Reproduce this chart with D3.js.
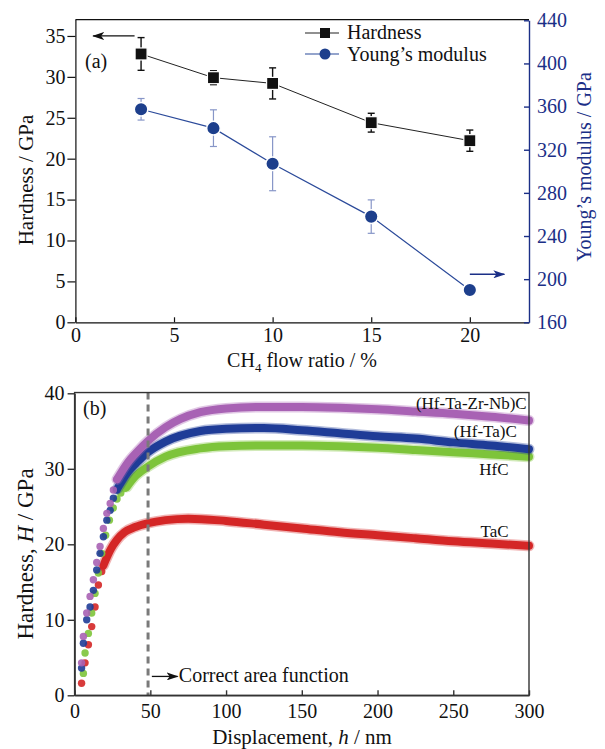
<!DOCTYPE html>
<html>
<head>
<meta charset="utf-8">
<script src="https://cdn.jsdelivr.net/npm/d3@7"></script>
<style>
  body { margin: 0; background: #fff; }
  svg text { font-family: "Liberation Serif", "Times New Roman", serif; }
</style>
</head>
<body>
<svg id="chart" width="605" height="749"></svg>
<script>
// panel (a): CH4 flow ratio vs hardness / modulus
let flowRatio = [3.33, 7, 10, 15, 20];
let hardness = [32.8, 29.9, 29.2, 24.4, 22.2];
let hardnessErr = [2.0, 0.85, 1.9, 1.15, 1.3];
let modulus = [357.5, 340, 307, 258, 190];
let modulusErr = [10, 17, 25, 15.5, 0];

let ticksA_x = [0, 5, 10, 15, 20];
let ticksA_yL = [0, 5, 10, 15, 20, 25, 30, 35];
let ticksA_yR = [160, 200, 240, 280, 320, 360, 400, 440];

// panel (b): hardness vs displacement, discrete dots at start then dense band
let hfcDotsH = [5.8, 6.9, 9.1, 11.3, 13.5, 15.7, 17.9, 20.5, 23, 25.5, 28, 30.5, 33];
let hfcDotsV = [2.9, 5.6, 8.2, 10.9, 13.5, 16.2, 18.8, 21.2, 23.2, 24.8, 26.0, 26.8, 27.4];
let hfcBandH = [34.5, 40, 48.5, 60, 83, 100, 125, 150, 175, 200, 225, 250, 275, 300];
let hfcBandV = [27.6, 29.0, 30.3, 31.6, 32.7, 33.0, 33.1, 33.1, 33.0, 32.8, 32.5, 32.2, 31.9, 31.6];

let hftaDotsH = [4.6, 5.8, 8.0, 10.2, 12.4, 14.6, 16.8, 19.0, 21.3, 23.5, 25.6, 27.9];
let hftaDotsV = [3.6, 6.9, 10.0, 11.7, 13.9, 16.6, 18.8, 21.0, 23.2, 24.5, 26.1, 27.2];
let hftaBandH = [28, 35, 42, 48.5, 60, 83, 100, 125, 150, 175, 200, 225, 250, 275, 300];
let hftaBandV = [27.3, 29.5, 31.0, 32.2, 33.6, 35.0, 35.3, 35.4, 35.1, 34.7, 34.3, 34.0, 33.5, 33.1, 32.6];

let heaDotsH = [4.6, 5.8, 8.0, 10.2, 12.4, 14.6, 16.8, 19.0, 21.3, 23.5, 25.6, 28];
let heaDotsV = [4.3, 7.8, 10.9, 13.1, 15.3, 17.6, 19.7, 22.1, 24.1, 25.4, 27.2, 28.6];
let heaBandH = [28, 35, 42, 48.5, 60, 70, 83, 100, 125, 150, 175, 200, 225, 250, 275, 300];
let heaBandV = [28.6, 30.8, 32.4, 33.7, 35.5, 36.6, 37.5, 38.0, 38.2, 38.2, 38.1, 37.9, 37.6, 37.3, 36.9, 36.4];

let tacDotsH = [4.6, 6.9, 9.1, 11.3, 13.5, 15.7, 17.9];
let tacDotsV = [1.6, 4.3, 6.7, 9.1, 11.7, 14.6, 16.4];
let tacBandH = [19, 24, 28, 33, 40, 48.5, 60, 75, 100, 125, 150, 175, 200, 225, 250, 275, 300];
let tacBandV = [17.2, 19.4, 20.6, 21.6, 22.3, 22.8, 23.2, 23.4, 23.1, 22.6, 22.1, 21.6, 21.2, 20.8, 20.4, 20.1, 19.8];

let ticksB_x = [0, 50, 100, 150, 200, 250, 300];
let ticksB_y = [0, 10, 20, 30, 40];

let navy = "#1b2f87";
let svg = d3.select("#chart");

let defs = svg.append("defs");
function arrowMarker(id, color) {
  defs.append("marker")
    .attr("id", id)
    .attr("viewBox", "0 0 12 8")
    .attr("refX", 11).attr("refY", 4)
    .attr("markerWidth", 12).attr("markerHeight", 8)
    .attr("markerUnits", "userSpaceOnUse")
    .attr("orient", "auto")
    .append("path")
    .attr("d", "M0,0 L12,4 L0,8 L3,4 Z")
    .attr("fill", color);
}
arrowMarker("arrBlack", "#111");
arrowMarker("arrNavy", navy);

// ---------- panel (a) ----------
let xA = d3.scaleLinear().domain([0, 23]).range([75.4, 529]);
let yL = d3.scaleLinear().domain([0, 37]).range([322.3, 19.6]);
let yR = d3.scaleLinear().domain([160, 440]).range([322.3, 20.3]);

let gA = svg.append("g");

gA.append("line")
  .attr("x1", xA(0)).attr("x2", xA(23))
  .attr("y1", yL(37)).attr("y2", yL(37))
  .attr("stroke", "#111").attr("stroke-width", 1.2);

let axA_x = gA.append("g")
  .attr("transform", "translate(0," + yL(0) + ")")
  .call(d3.axisBottom(xA).tickValues(ticksA_x).tickSizeInner(-5).tickSizeOuter(0).tickPadding(6));
let axA_yL = gA.append("g")
  .attr("transform", "translate(" + xA(0) + ",0)")
  .call(d3.axisLeft(yL).tickValues(ticksA_yL).tickSizeInner(8).tickSizeOuter(0).tickPadding(2));
let axA_yR = gA.append("g")
  .attr("transform", "translate(" + xA(23) + ",0)")
  .call(d3.axisRight(yR).tickValues(ticksA_yR).tickSizeInner(-5).tickSizeOuter(0).tickPadding(8));

[axA_x, axA_yL].forEach(a => {
  a.selectAll("path, line").attr("stroke", "#111").attr("stroke-width", 1.2);
  a.selectAll("text").attr("fill", "#111").style("font-size", "20px");
});
axA_yR.selectAll("path, line").attr("stroke", navy).attr("stroke-width", 1.4);
axA_yR.selectAll("text").attr("fill", navy).style("font-size", "20px");

// modulus series
let modIdx = d3.range(flowRatio.length);
gA.append("path")
  .datum(modIdx)
  .attr("fill", "none").attr("stroke", "#2b4a9a").attr("stroke-width", 1.2)
  .attr("d", d3.line().x(i => xA(flowRatio[i])).y(i => yR(modulus[i])));
let modErr = gA.append("g").attr("stroke", "#8796c8").attr("stroke-width", 1.2);
modIdx.filter(i => modulusErr[i] > 0).forEach(i => {
  let x = xA(flowRatio[i]);
  modErr.append("line").attr("x1", x).attr("x2", x)
    .attr("y1", yR(modulus[i] - modulusErr[i])).attr("y2", yR(modulus[i] + modulusErr[i]));
  [modulus[i] - modulusErr[i], modulus[i] + modulusErr[i]].forEach(v => {
    modErr.append("line").attr("x1", x - 3.5).attr("x2", x + 3.5)
      .attr("y1", yR(v)).attr("y2", yR(v));
  });
});
gA.selectAll("circle.mod")
  .data(modIdx).join("circle")
  .attr("class", "mod")
  .attr("cx", i => xA(flowRatio[i])).attr("cy", i => yR(modulus[i]))
  .attr("r", 6.8)
  .attr("fill", "#1d3f8c").attr("stroke", "#fff").attr("stroke-width", 1.5);

// hardness series
gA.append("path")
  .datum(modIdx)
  .attr("fill", "none").attr("stroke", "#222").attr("stroke-width", 1)
  .attr("d", d3.line().x(i => xA(flowRatio[i])).y(i => yL(hardness[i])));
let hErr = gA.append("g").attr("stroke", "#111").attr("stroke-width", 1.4);
modIdx.forEach(i => {
  let x = xA(flowRatio[i]);
  hErr.append("line").attr("x1", x).attr("x2", x)
    .attr("y1", yL(hardness[i] - hardnessErr[i])).attr("y2", yL(hardness[i] + hardnessErr[i]));
  [hardness[i] - hardnessErr[i], hardness[i] + hardnessErr[i]].forEach(v => {
    hErr.append("line").attr("x1", x - 3.5).attr("x2", x + 3.5)
      .attr("y1", yL(v)).attr("y2", yL(v));
  });
});
gA.selectAll("rect.hard")
  .data(modIdx).join("rect")
  .attr("class", "hard")
  .attr("x", i => xA(flowRatio[i]) - 6).attr("y", i => yL(hardness[i]) - 6)
  .attr("width", 12).attr("height", 12)
  .attr("fill", "#111").attr("stroke", "#fff").attr("stroke-width", 1.2);

// legend
let leg = gA.append("g");
leg.append("line").attr("x1", 305).attr("x2", 339).attr("y1", 33).attr("y2", 33)
  .attr("stroke", "#222").attr("stroke-width", 1.2);
leg.append("rect").attr("x", 320).attr("y", 28).attr("width", 10).attr("height", 10).attr("fill", "#111");
leg.append("text").attr("x", 347).attr("y", 39).style("font-size", "20px").attr("fill", "#111").text("Hardness");
leg.append("line").attr("x1", 305).attr("x2", 339).attr("y1", 54).attr("y2", 54)
  .attr("stroke", "#2b4a9a").attr("stroke-width", 1.2);
leg.append("circle").attr("cx", 325).attr("cy", 54).attr("r", 5.5).attr("fill", "#1d3f8c");
leg.append("text").attr("x", 347).attr("y", 61).style("font-size", "20px").attr("fill", "#111").text("Young\u2019s modulus");

// annotations
gA.append("text").attr("x", 85).attr("y", 68).style("font-size", "20px").attr("fill", "#111").text("(a)");
gA.append("line")
  .attr("x1", xA(3.0)).attr("x2", xA(0.9)).attr("y1", yL(35)).attr("y2", yL(35))
  .attr("stroke", "#111").attr("stroke-width", 1.3).attr("marker-end", "url(#arrBlack)");
gA.append("line")
  .attr("x1", xA(20.0)).attr("x2", xA(21.75)).attr("y1", yR(204.5)).attr("y2", yR(204.5))
  .attr("stroke", navy).attr("stroke-width", 1.6).attr("marker-end", "url(#arrNavy)");

// axis titles
let xTitleA = gA.append("text")
  .attr("x", 302).attr("y", 367).attr("text-anchor", "middle")
  .style("font-size", "20px").attr("fill", "#111");
xTitleA.append("tspan").text("CH");
xTitleA.append("tspan").attr("dy", 5).style("font-size", "13px").text("4");
xTitleA.append("tspan").attr("dy", -5).text(" flow ratio / %");

gA.append("text")
  .attr("transform", "translate(33,180) rotate(-90)")
  .attr("text-anchor", "middle").style("font-size", "21px").attr("fill", "#111")
  .text("Hardness / GPa");
gA.append("text")
  .attr("transform", "translate(591,167) rotate(-90)")
  .attr("text-anchor", "middle").style("font-size", "20px").attr("fill", navy)
  .text("Young\u2019s modulus / GPa");

// ---------- panel (b) ----------
let xB = d3.scaleLinear().domain([0, 300]).range([74.6, 529]);
let yB = d3.scaleLinear().domain([0, 40]).range([695.3, 393.3]);

let gB = svg.append("g");

let curves = [
  { name: "TaC", color: "#d42626", dH: tacDotsH, dV: tacDotsV, bH: tacBandH, bV: tacBandV },
  { name: "HfC", color: "#7dc43a", dH: hfcDotsH, dV: hfcDotsV, bH: hfcBandH, bV: hfcBandV },
  { name: "(Hf-Ta)C", color: "#1f3c97", dH: hftaDotsH, dV: hftaDotsV, bH: hftaBandH, bV: hftaBandV },
  { name: "(Hf-Ta-Zr-Nb)C", color: "#a862b4", dH: heaDotsH, dV: heaDotsV, bH: heaBandH, bV: heaBandV }
];

let bandLine = d3.line().curve(d3.curveMonotoneX);
curves.forEach(c => {
  let pts = c.bH.map((h, i) => [xB(h), yB(c.bV[i])]);
  gB.append("path")
    .attr("d", bandLine(pts))
    .attr("fill", "none").attr("stroke", c.color).attr("stroke-opacity", 0.35)
    .attr("stroke-width", 11).attr("stroke-linecap", "round");
  gB.append("path")
    .attr("d", bandLine(pts))
    .attr("fill", "none").attr("stroke", c.color)
    .attr("stroke-width", 8).attr("stroke-linecap", "round");
  gB.selectAll(null)
    .data(c.dH.map((h, i) => [h, c.dV[i]]))
    .join("circle")
    .attr("cx", d => xB(d[0])).attr("cy", d => yB(d[1]))
    .attr("r", 3.7).attr("fill", c.color).attr("fill-opacity", 0.9);
});

// dashed line at the area-function limit
gB.append("line")
  .attr("x1", xB(48.5)).attr("x2", xB(48.5))
  .attr("y1", yB(40.1)).attr("y2", yB(0))
  .attr("stroke", "#7a7a7a").attr("stroke-width", 3).attr("stroke-dasharray", "7,5");

// frame
gB.append("rect")
  .attr("x", xB(0)).attr("y", yB(40.1))
  .attr("width", xB(300) - xB(0)).attr("height", yB(0) - yB(40.1))
  .attr("fill", "none").attr("stroke", "#333").attr("stroke-width", 1.4);

let axB_x = gB.append("g")
  .attr("transform", "translate(0," + yB(0) + ")")
  .call(d3.axisBottom(xB).tickValues(ticksB_x).tickSizeInner(-5).tickSizeOuter(0).tickPadding(9));
let axB_y = gB.append("g")
  .attr("transform", "translate(" + xB(0) + ",0)")
  .call(d3.axisLeft(yB).tickValues(ticksB_y).tickSizeInner(7).tickSizeOuter(0).tickPadding(3));
[axB_x, axB_y].forEach(a => {
  a.selectAll("path, line").attr("stroke", "#333").attr("stroke-width", 1.4);
  a.selectAll("text").attr("fill", "#111").style("font-size", "20px");
});

// curve labels
let labelPos = [
  { t: "(Hf-Ta-Zr-Nb)C", h: 298.5, v: 37.9 },
  { t: "(Hf-Ta)C", h: 292, v: 34.2 },
  { t: "HfC", h: 286.5, v: 29.2 },
  { t: "TaC", h: 286.5, v: 21.0 }
];
labelPos.forEach(l => {
  gB.append("text")
    .attr("x", xB(l.h)).attr("y", yB(l.v))
    .attr("text-anchor", "end").style("font-size", "17px").attr("fill", "#111")
    .text(l.t);
});

gB.append("text").attr("x", 83).attr("y", 415).style("font-size", "20px").attr("fill", "#111").text("(b)");

gB.append("line")
  .attr("x1", xB(51)).attr("x2", xB(68)).attr("y1", yB(2.5)).attr("y2", yB(2.5))
  .attr("stroke", "#111").attr("stroke-width", 1.3).attr("marker-end", "url(#arrBlack)");
gB.append("text")
  .attr("x", xB(68.8)).attr("y", yB(2.5) + 6)
  .style("font-size", "20px").attr("fill", "#111")
  .text("Correct area function");

let xTitleB = gB.append("text")
  .attr("x", 302).attr("y", 744).attr("text-anchor", "middle")
  .style("font-size", "21px").attr("fill", "#111");
xTitleB.append("tspan").text("Displacement, ");
xTitleB.append("tspan").style("font-style", "italic").text("h");
xTitleB.append("tspan").text(" / nm");

let yTitleB = gB.append("text")
  .attr("transform", "translate(33,554) rotate(-90)")
  .attr("text-anchor", "middle").style("font-size", "23px").attr("fill", "#111");
yTitleB.append("tspan").text("Hardness, ");
yTitleB.append("tspan").style("font-style", "italic").text("H");
yTitleB.append("tspan").text(" / GPa");
</script>
</body>
</html>
